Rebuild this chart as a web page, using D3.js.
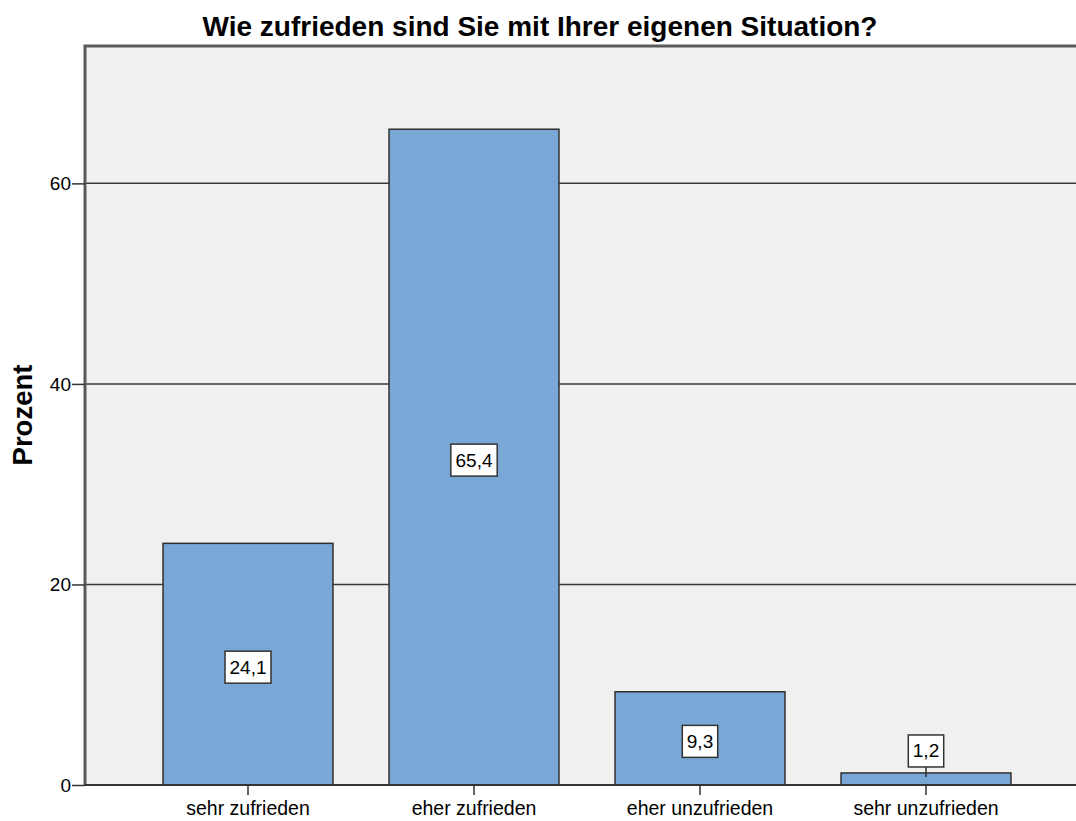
<!DOCTYPE html>
<html><head><meta charset="utf-8">
<script src="https://cdn.jsdelivr.net/npm/d3@7"></script>
<style>body{margin:0;background:#fff}svg{display:block;font-family:"Liberation Sans",Arial,sans-serif}</style>
</head><body>
<script>
const categories = ["sehr zufrieden","eher zufrieden","eher unzufrieden","sehr unzufrieden"];
const values = [24.1, 65.4, 9.3, 1.2];
const valueLabels = ["24,1","65,4","9,3","1,2"];
const yTicks = [0,20,40,60];
const title = "Wie zufrieden sind Sie mit Ihrer eigenen Situation?";
const yTitle = "Prozent";

const W=1076,H=821;
const svg=d3.select("body").append("svg").attr("width",W).attr("height",H);
const L=85,T=46,R=1076,B=785;
const y=d3.scaleLinear().domain([0,73.7]).range([B,T]);
const x=d3.scaleBand().domain(categories).range([135,1039]).paddingInner(0.248).paddingOuter(0.124);

svg.append("rect").attr("x",L).attr("y",T).attr("width",R-L).attr("height",B-T).attr("fill","#f0f0f0");

// gridlines
svg.append("g").selectAll("line").data(yTicks.filter(d=>d>0)).join("line")
 .attr("x1",L).attr("x2",R).attr("y1",d=>y(d)).attr("y2",d=>y(d))
 .attr("stroke","#3a3a3a").attr("stroke-width",1.5);

// bars
svg.append("g").selectAll("rect").data(values).join("rect")
 .attr("x",(d,i)=>x(categories[i])).attr("width",x.bandwidth())
 .attr("y",d=>y(d)).attr("height",d=>B-y(d))
 .attr("fill","#79a8d6").attr("stroke","#2f2f2f").attr("stroke-width",1.5);

// frame
svg.append("path").attr("d",`M${R},${T}H${L}V${B}`).attr("fill","none").attr("stroke","#5a5a5a").attr("stroke-width",3);

// y axis
const ya=svg.append("g").attr("transform",`translate(${L},0)`)
 .call(d3.axisLeft(y).tickValues(yTicks).tickSize(13).tickPadding(1));
ya.select(".domain").remove();
ya.selectAll("line").attr("stroke","#333").attr("stroke-width",1.5);
ya.selectAll("text").attr("font-size","19px").attr("fill","#000").attr("font-family","Liberation Sans, Arial, sans-serif");

// x axis
const xa=svg.append("g").attr("transform",`translate(0,${B})`)
 .call(d3.axisBottom(x).tickSize(10).tickPadding(4));
xa.select(".domain").attr("stroke","#333").attr("stroke-width",2).attr("d",`M${L},0H${R}`);
xa.selectAll("line").attr("stroke","#333").attr("stroke-width",1.5);
xa.selectAll("text").attr("font-size","19.5px").attr("fill","#000").attr("dy",null).attr("y",null)
  .attr("transform","translate(0,30)").attr("font-family","Liberation Sans, Arial, sans-serif");

// data labels
const lg=svg.append("g");
values.forEach((v,i)=>{
  const cx=x(categories[i])+x.bandwidth()/2;
  const small = (B-y(v))<36;
  const cy = small ? y(v)-22 : y(v/2)+3;
  const t=lg.append("text").attr("x",cx).attr("y",cy).attr("text-anchor","middle").attr("dominant-baseline","central")
    .attr("font-size","19px").text(valueLabels[i]);
  const bb=t.node().getBBox();
  const w=bb.width+9,h=32;
  lg.insert("rect","text").attr("x",cx-w/2).attr("y",cy-h/2).attr("width",w).attr("height",h)
    .attr("fill","#fff").attr("stroke","#333").attr("stroke-width",1.5);
  if(small){
    lg.append("line").attr("x1",cx).attr("x2",cx).attr("y1",cy+h/2).attr("y2",y(v)+4).attr("stroke","#333").attr("stroke-width",1.5);
  }
});

svg.append("text").attr("x",540).attr("y",36).attr("text-anchor","middle").attr("font-weight","bold").attr("font-size","28px").text(title);
svg.append("text").attr("transform",`translate(32,415) rotate(-90)`).attr("text-anchor","middle").attr("font-weight","bold").attr("font-size","27.5px").text(yTitle);
</script>
</body></html>
